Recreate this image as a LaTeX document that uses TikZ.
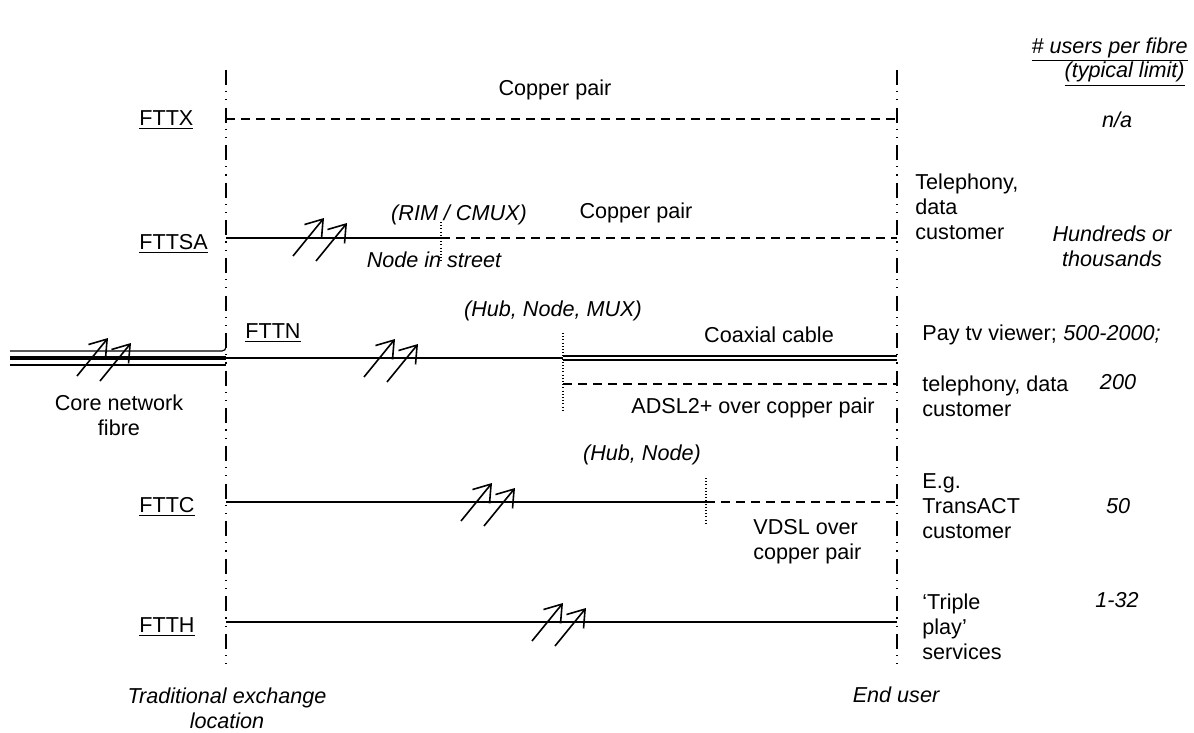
\documentclass[tikz,border=0pt]{standalone}
\usepackage{fontspec}
\setmainfont{Liberation Sans}
\usetikzlibrary{arrows.meta}

\tikzset{
  txt/.style={inner sep=0pt, font=\fontsize{10.8}{12.4}\selectfont},
  itxt/.style={inner sep=0pt, font=\fontsize{10.8}{12.4}\selectfont\itshape},
  boundary/.style={line width=0.65pt, dash pattern=on 7.5pt off 3pt on 0.6pt off 3.5pt on 0.6pt off 3.6pt},
  fibreline/.style={line width=1.1pt},
  corefibre/.style={line width=1.6pt},
  thinfibre/.style={line width=0.6pt},
  copper/.style={line width=0.65pt, dash pattern=on 4.5pt off 3pt},
  coax/.style={line width=0.7pt, double distance=1.4pt},
  nodemark/.style={line width=0.6pt, dash pattern=on 0.5pt off 1.1pt},
  fibrearrow/.style={line width=0.8pt, -{Straight Barb[length=8pt,width=11pt]}},
  pics/fibrepair/.style={code={
    \draw[fibrearrow] (-31,38) -- (0,0);
    \draw[fibrearrow] (-8,43) -- (23,5);
  }}
}

\begin{document}
\begin{tikzpicture}[x=0.5pt,y=-0.5pt]
\useasboundingbox (0,0) rectangle (1194,733);

% exchange and end-user boundaries
\coordinate (exT) at (226,70);  \coordinate (exB) at (226,665);
\coordinate (euT) at (897,70);  \coordinate (euB) at (897,665);
\draw[boundary] (exT) -- (exB);
\draw[boundary] (euT) -- (euB);

% column header
\node[itxt, anchor=east, align=right] (hdr) at (1188,62)
  {\underline{\# users per fibre}\\\underline{(typical limit)}\hspace*{1.5pt}};

% ---------------- FTTX ----------------
\node[txt, anchor=west] (fttx) at (139,120) {\underline{FTTX}};
\coordinate (xA) at (226,119); \coordinate (xB) at (897,119);
\draw[copper] (xA) -- (xB);
\node[txt] (xcu) at (555,90) {Copper pair};
\node[itxt] (xn) at (1117,120) {n/a};

% ---------------- FTTSA ----------------
\node[txt, anchor=west] (fttsa) at (139,244) {\underline{FTTSA}};
\coordinate (saA) at (226,238); \coordinate (saN) at (441,238); \coordinate (saB) at (897,238);
\coordinate (saNt) at (441,222); \coordinate (saNb) at (441,262);
\draw[fibreline] (saA) -- (saN);
\draw[copper] (saN) -- (saB);
\draw[nodemark] (saNt) -- (saNb);
\pic at (324,218) {fibrepair};
\node[itxt] (sarim) at (459,215) {(RIM / CMUX)};
\node[txt] (sacu) at (636,213) {Copper pair};
\node[itxt] (sast) at (434,260) {Node in street};
\node[txt, anchor=west, align=left] (sacust) at (915,207) {Telephony,\\data\\customer};
\node[itxt, align=center] (sanum) at (1112,246) {Hundreds or\\thousands};

% ---------------- core network ----------------
\coordinate (c1L) at (10,351); \coordinate (c1R) at (226,345);
\coordinate (c2L) at (10,358); \coordinate (c2R) at (226,358);
\coordinate (c3L) at (10,365); \coordinate (c3R) at (226,365);
\draw[thinfibre, rounded corners=2pt] (c1L) -| (c1R);
\draw[corefibre] (c2L) -- (c2R);
\draw[thinfibre] (c3L) -- (c3R);
\pic at (108,338) {fibrepair};
\node[txt, align=center] (core) at (119,415) {Core network\\fibre};

% ---------------- FTTN ----------------
\node[txt, anchor=west] (fttn) at (245,333) {\underline{FTTN}};
\coordinate (nN) at (563,358); \coordinate (nB) at (897,358);
\coordinate (nD) at (563,384); \coordinate (nDB) at (897,384);
\coordinate (nNt) at (563,333); \coordinate (nNb) at (563,412);
\draw[fibreline] (c2R) -- (nN);
\draw[coax] (nN) -- (nB);
\draw[copper] (nD) -- (nDB);
\draw[nodemark] (nNt) -- (nNb);
\pic at (395,339) {fibrepair};
\node[itxt] (nhub) at (553,311) {(Hub, Node, MUX)};
\node[txt] (ncoax) at (769,335) {Coaxial cable};
\node[txt] (nadsl) at (753,408) {ADSL2+ over copper pair};
\node[txt, anchor=west] (npay) at (922,335) {Pay tv viewer;};
\node[txt, anchor=west, align=left] (ntel) at (922,396) {telephony, data\\customer};
\node[itxt] (nnum1) at (1112,334) {500-2000;};
\node[itxt] (nnum2) at (1118,382) {200};

% ---------------- FTTC ----------------
\node[txt, anchor=west] (fttc) at (139,507) {\underline{FTTC}};
\coordinate (cA) at (226,502); \coordinate (cN) at (706,502); \coordinate (cB) at (897,502);
\coordinate (cNt) at (706,478); \coordinate (cNb) at (706,523);
\draw[fibreline] (cA) -- (cN);
\draw[copper] (cN) -- (cB);
\draw[nodemark] (cNt) -- (cNb);
\pic at (492,483) {fibrepair};
\node[itxt] (chub) at (642,455) {(Hub, Node)};
\node[txt, anchor=west, align=left] (cvdsl) at (753,542) {VDSL over\\copper pair};
\node[txt, anchor=west, align=left] (ccust) at (922,506) {E.g.\\TransACT\\customer};
\node[itxt] (cnum) at (1118,506) {50};

% ---------------- FTTH ----------------
\node[txt, anchor=west] (ftth) at (139,627) {\underline{FTTH}};
\coordinate (hA) at (226,622); \coordinate (hB) at (897,622);
\draw[fibreline] (hA) -- (hB);
\pic at (563,603) {fibrepair};
\node[txt, anchor=west, align=left] (hcust) at (922,627) {‘Triple\\play’\\services};
\node[itxt] (hnum) at (1117,600) {1-32};

% ---------------- footer ----------------
\node[itxt, align=center] (exch) at (227,708) {Traditional exchange\\location};
\node[itxt] (enduser) at (896,695) {End user};
\end{tikzpicture}
\end{document}
